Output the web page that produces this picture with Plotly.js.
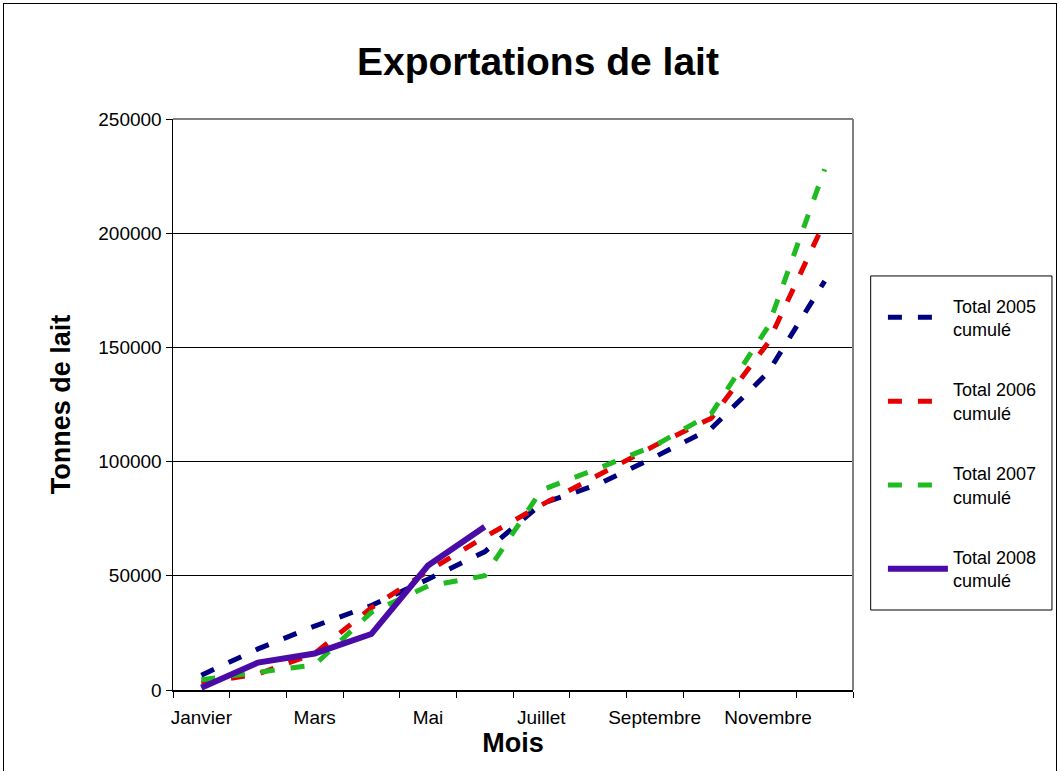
<!DOCTYPE html>
<html><head><meta charset="utf-8">
<script src="https://cdn.plot.ly/plotly-3.0.1.min.js"></script>
<style>
body{margin:0;padding:0;background:#fff;}
#wrap{position:relative;width:1059px;height:771px;overflow:hidden;}
#chart{width:1059px;height:771px;}
#frame{position:absolute;left:3px;top:3px;width:1052px;height:800px;border:1px solid #000;pointer-events:none;}
</style></head>
<body>
<div id="wrap"><div id="chart"></div><div id="frame"></div></div>
<script>
const months = ['Janvier','Février','Mars','Avril','Mai','Juin','Juillet','Août','Septembre','Octobre','Novembre','Décembre'];
const tickText = ['Janvier','','Mars','','Mai','','Juillet','','Septembre','','Novembre',''];
const total2005 = [6500, 18000, 28000, 37000, 48500, 60500, 81500, 90000, 102000, 114500, 139000, 179000];
const total2006 = [3000, 7000, 16000, 36000, 52000, 67000, 81000, 94000, 107000, 119000, 152000, 205000];
const total2007 = [4500, 8000, 11000, 34000, 45500, 50000, 87500, 97000, 107000, 121000, 159000, 228000];
const total2008 = [1000, 12000, 16000, 24500, 54500, 71500];
const seriesNames = ['Total 2005<br>cumulé','Total 2006<br>cumulé','Total 2007<br>cumulé','Total 2008<br>cumulé'];
const yTicks = [0, 50000, 100000, 150000, 200000, 250000];

const dashStyle = '14px,16px';
const traces = [
  {x: months, y: total2005, name: seriesNames[0], mode:'lines', legendgroup:'a',
   line:{color:'#000080', width:5, dash:dashStyle}},
  {x: months, y: total2006, name: seriesNames[1], mode:'lines', legendgroup:'b',
   line:{color:'#E60000', width:5, dash:dashStyle}},
  {x: months, y: total2007, name: seriesNames[2], mode:'lines', legendgroup:'c',
   line:{color:'#20BB20', width:5, dash:dashStyle}},
  {x: months.slice(0, total2008.length), y: total2008, name: seriesNames[3], mode:'lines', legendgroup:'d',
   line:{color:'#4B0BA6', width:6}}
];

const font = 'Arial, "Liberation Sans", sans-serif';
const layout = {
  width:1059, height:771,
  margin:{l:173, r:206, t:119, b:81},
  paper_bgcolor:'#fff', plot_bgcolor:'#fff',
  font:{family:font, color:'#000', size:19},
  title:{text:'<b>Exportations de lait</b>', font:{family:font, size:39, color:'#000'},
         x:0.508, xanchor:'center', y:0.92, yanchor:'middle'},
  showlegend:true,
  legend:{x:1.044, xanchor:'left', y:0.705, yanchor:'top', font:{family:font, size:18},
          bgcolor:'rgba(0,0,0,0)', borderwidth:0, traceorder:'grouped', tracegroupgap:34,
          itemwidth:60},
  xaxis:{type:'category', categoryorder:'array', categoryarray:months,
         tickvals:months, ticktext:tickText, tickson:'boundaries', tickangle:0,
         ticks:'outside', ticklen:6, tickcolor:'#000', tickwidth:1, ticklabelstandoff:10,
         showline:true, linecolor:'#000', linewidth:1.5, showgrid:false, zeroline:false,
         tickfont:{size:19}, range:[-0.5, 11.5], automargin:false,
         title:{text:'<b>Mois</b>', font:{size:27}, standoff:2}},
  yaxis:{range:[0,250000], tickvals:yTicks, ticktext:yTicks.map(String),
         ticks:'outside', ticklen:6, tickcolor:'#000', tickwidth:1,
         showline:true, linecolor:'#000', linewidth:1.5, automargin:false,
         showgrid:true, gridcolor:'#000', gridwidth:1, zeroline:false,
         tickfont:{size:19},
         title:{text:'<b>Tonnes de lait</b>', font:{size:27}, standoff:20}},
  shapes:[
    {type:'line', xref:'paper', yref:'paper', x0:0, x1:1, y0:1, y1:1, line:{color:'#808080', width:2}},
    {type:'line', xref:'paper', yref:'paper', x0:1, x1:1, y0:0, y1:1, line:{color:'#808080', width:2}},
    {type:'rect', xref:'paper', yref:'paper', x0:1.026, x1:1.2926, y0:0.1401, y1:0.7251,
     line:{color:'#000', width:1}, fillcolor:'rgba(0,0,0,0)'}
  ]
};
Plotly.newPlot('chart', traces, layout, {displayModeBar:false, staticPlot:true});
</script>
</body></html>
